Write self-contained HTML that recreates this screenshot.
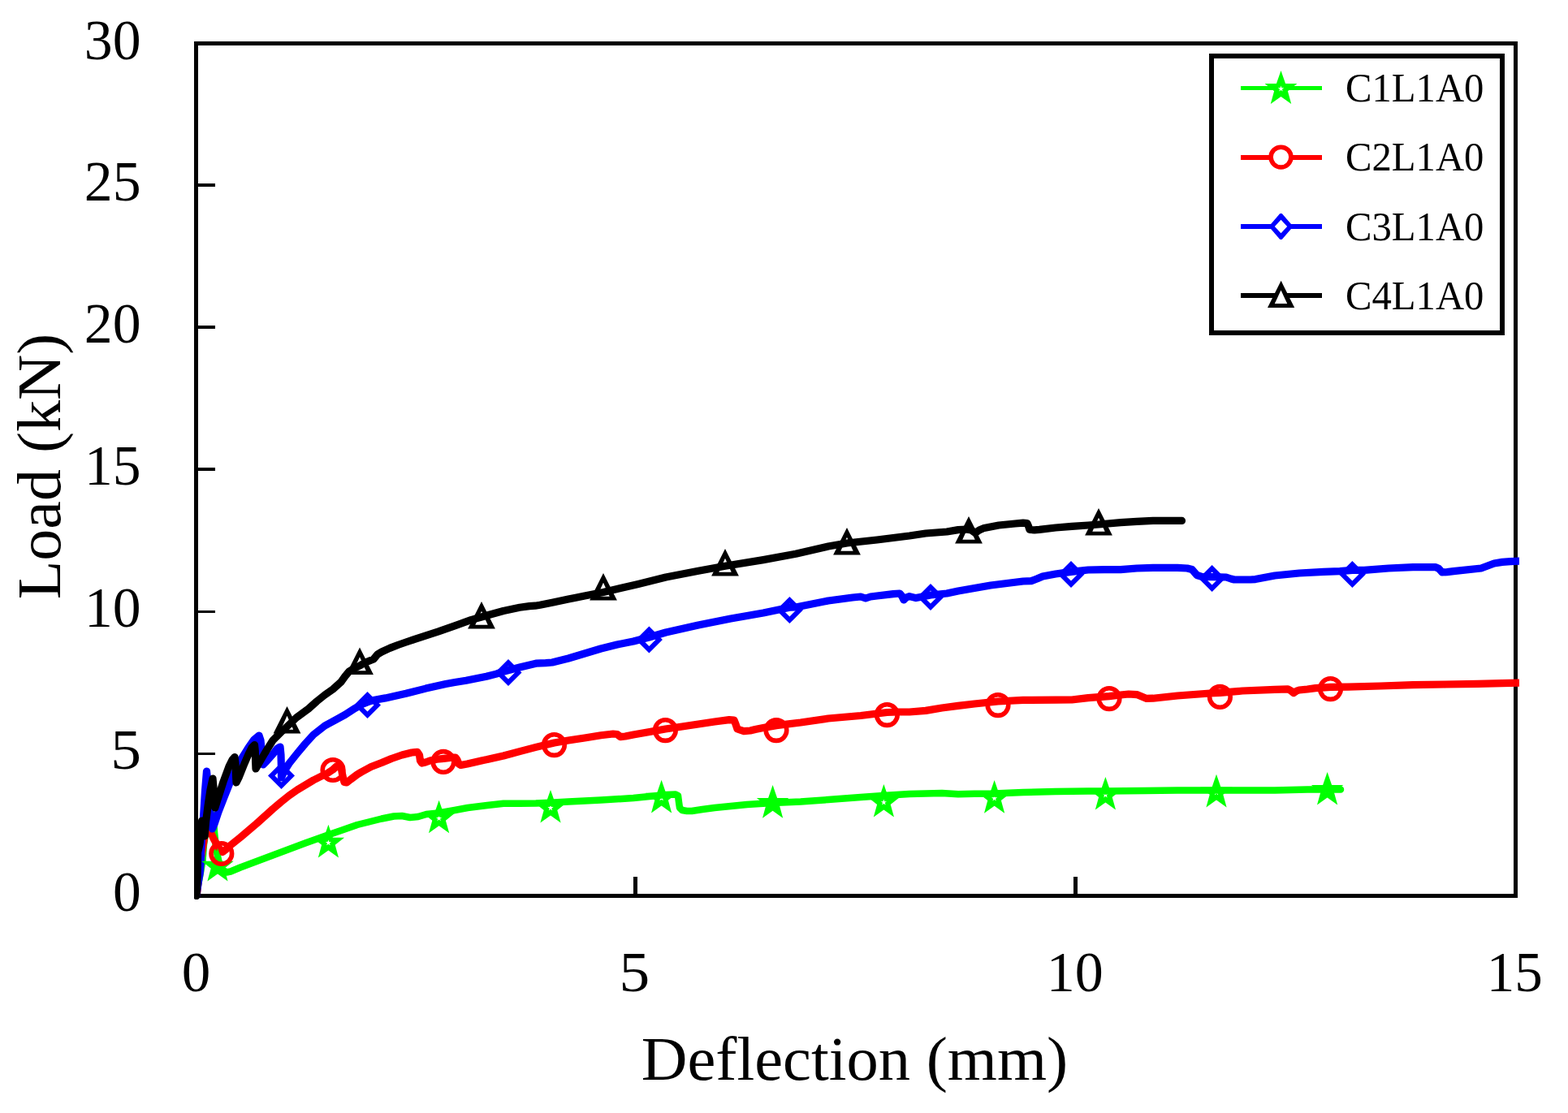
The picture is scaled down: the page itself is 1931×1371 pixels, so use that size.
<!DOCTYPE html>
<html lang="en"><head><meta charset="utf-8"><title>Load–Deflection</title>
<style>html,body{margin:0;padding:0;background:#fff;}body{width:1931px;height:1371px;overflow:hidden;}svg{display:block;}text{font-family:"Liberation Serif",serif;fill:#000;}</style>
</head><body>
<svg width="1931" height="1371" viewBox="0 0 1931 1371">
<rect width="1931" height="1371" fill="#fff"/>
<defs><clipPath id="plotclip"><rect x="239" y="40" width="1632" height="1068"/></clipPath></defs>
<g id="axes" fill="none" stroke="#000" shape-rendering="crispEdges">
<rect x="241.5" y="53.5" width="1625" height="1050" stroke-width="5"/>
<line x1="244" y1="228" x2="265" y2="228" stroke-width="4"/>
<line x1="244" y1="403" x2="265" y2="403" stroke-width="4"/>
<line x1="244" y1="578" x2="265" y2="578" stroke-width="4"/>
<line x1="244" y1="753.5" x2="265" y2="753.5" stroke-width="3"/>
<line x1="244" y1="928.5" x2="265" y2="928.5" stroke-width="3"/>
<line x1="782.5" y1="1080" x2="782.5" y2="1101" stroke-width="5"/>
<line x1="1324.5" y1="1080" x2="1324.5" y2="1101" stroke-width="5"/>
</g>
<g id="curves" clip-path="url(#plotclip)" fill="none" stroke-linejoin="round" stroke-linecap="round">
<g id="lines">
<polyline stroke="#00ff00" stroke-width="8.5" points="241.5,1103 246,1080 249.5,1060 251,1040 254,1020 258,1005 261,1003 263,1010 264,1025 265.5,1040 267.5,1052 270,1064 274,1071.5 279,1074.5 284,1073.5 296,1068.5 316,1061 336,1053.5 356,1046 376,1038.5 390,1033.5 404,1028.5 420,1023 440,1016 456,1012 470,1008.5 485,1005.5 495,1005 505,1007 515,1006 525,1003 540,1001.5 560,998 576,995 600,992 620,989.8 640,989.8 660,989.6 678,988.8 700,987.6 740,985.6 780,983 800,981 820,979 832,978.5 835,980 836,988 837,995 840,998 846,999 852,999 865,997 880,995 900,993 920,991 951.6,989 986,987.5 1020,985 1060,982 1088,980 1120,978 1160,977 1180,978.2 1200,977.8 1224.6,977.4 1260,976 1300,975 1340,974.4 1361,974.4 1410,974 1450,973.6 1498,973.4 1570,973.4 1610,972.4 1634.6,972.4 1651,972.4"/>
<polyline stroke="#ff0000" stroke-width="9.2" points="242.5,1101 247,1060 252,1030 256,1016 259,1024 263,1033 267.5,1041 271,1046.5 274.3,1049.5 277.5,1047 281,1043.5 296,1031.5 316,1014.5 336,996.5 346,988 356,980 366,973 376,967 386,961 396,956 404,952 410,948 415,943.5 418,942 420,945 422,956 424,963.5 427,964 432,960 440,954 445,951 457,944.5 470,939.5 482,934.5 495,930 507,927 514,926.3 516.5,930 517.5,937 519.5,940 524,939 529.5,937 538,935.3 546.5,934.4 556,933.2 561,933.2 563,936 565,941 567.5,942.5 575.5,941 594,936.7 600,935.6 620,931 640,925.6 660,920.4 682.6,915 700,912 720,909 740,905.8 755,904 760,904.5 764,907.6 770,907 780,905 800,901.5 819.4,898 840,895 860,892 880,889 898,886.6 904,887 906,892 908,898 916,900.6 924,900 930,898.6 940,896.5 956,893.6 986,890 1020,885 1060,881.5 1092.4,877.5 1106,877 1120,877 1140,875.4 1160,872 1180,869.4 1200,867 1229,864 1260,862.4 1300,862.2 1320,862 1340,859.6 1366,857.6 1380,856 1390,855 1400,855.6 1406,858 1412,860.4 1420,860.2 1450,857 1490,854 1502.4,853.4 1530,851 1570,849.4 1586,848.8 1590,851 1593,853.6 1597,851 1600,850 1610,849 1620,847.6 1638.6,846.4 1660,846.2 1700,845 1740,843.6 1780,843 1820,842.4 1860,841.4 1875,841"/>
<polyline stroke="#0000ff" stroke-width="9.2" points="242,1103 242.6,1098 244.2,1087 246.3,1075 247.3,1060 247.6,1048 248.7,1030 250.5,1007 252.6,973 254.5,950 256,965 258,990 260,1012 261.5,1021 264,1015 269,1000 276,982 286,957 296,937 306,921 313,911 319,906 321,912 322.5,928 324,942 328,938 336,929 341,922.5 345,920 346,930 346.4,945 346.5,958 350,950 356,940.5 366,928 376,916 386,905 400,894 412,887.5 425,880.4 437.3,872.4 446,867.5 452.4,865 460,862.5 474.6,859.9 500,854.2 524.3,848.1 549,842.5 560,840.5 574,838.2 599,833.2 611.3,830.1 620,827.2 640,822 660,817.2 672,816.6 680,816 700,811 720,805 740,799 760,794 780,790 799.4,785 820,779 860,770 900,762 940,755 972.4,748.2 980,748 1020,740 1050,736 1060,735 1066,737 1072,735 1080,734 1100,731.6 1108,731 1110.5,734 1113,739 1116,736 1120,734.6 1128,736.6 1136,735 1146,733 1166,731 1180,728 1220,721 1260,716 1270,715.6 1277,713 1284,710 1300,707 1319,704.4 1340,702 1360,701.6 1380,701.6 1400,700 1420,699.4 1450,699.4 1462,700 1468,701.5 1471,705 1474,708.5 1480,710.4 1492.6,710.6 1510,711 1516,713 1520,714 1540,714 1546,713.6 1570,709 1600,706 1630,704.4 1650,703.6 1665.4,702.4 1680,702.4 1710,700 1740,698.6 1768,698.6 1772,700.5 1776,705 1782,704.6 1790,703.6 1824,700 1832,697 1840,694 1850,692.4 1860,691.6 1875,691"/>
<polyline stroke="#000" stroke-width="9.2" points="242,1103.5 243.2,1080 243.6,1050 246,1040 247.5,1028 248.6,1011 250,1024 252,1030 253.5,1013 256,993 259,973 262,959 263,970 264,985 264.8,995 268,985 275,963 282,944 286,936 289,932.5 290,940 290.5,955 291,964 294,958 300,943 306,929 310,921 313.5,917.5 314.3,925 314.6,938 315,947 319,940 326,928 336,912 340,908 346,902 353.5,895 365,884 380,873 390,864 400,856 410,849 420,840 425,833 430,827 436,823.5 443,820 450,816 460,812 465,806 470,803 480,798.4 490,794.5 500,791 510,787.6 520,784.3 540,777.8 560,770.8 580,763.7 593,760 600,758 620,752.5 640,748.2 652,746.6 659,746.2 665,745.2 680,742.2 700,738 709,736.2 720,734 743,729.4 760,725.5 786,719.5 820,711 860,703.2 893,697.2 940,689.6 980,682.3 1020,673 1043,669 1080,665 1120,660 1140,657 1166,655 1180,652.6 1190,652 1196,653 1201,656.5 1206,653 1212,650.4 1230,647 1250,645 1260,644.2 1265,644.5 1266.5,648 1268,652.4 1274,652.8 1280,652.4 1300,650 1320,648.4 1340,647 1353,646 1380,643.6 1400,642.4 1420,641.4 1440,641.4 1455.5,641.4"/>
</g>
<g id="markers">
<path fill="#00ff00" fill-rule="evenodd" d="M268.0 1044.8 L273.5 1060.7 L287.7 1060.7 L276.3 1069.8 L280.6 1085.4 L268.0 1076.4 L255.4 1085.4 L259.7 1069.8 L248.3 1060.7 L262.5 1060.7Z M404.4 1015.8 L409.9 1031.7 L424.1 1031.7 L412.7 1040.8 L417.0 1056.4 L404.4 1047.4 L391.8 1056.4 L396.1 1040.8 L384.7 1031.7 L398.9 1031.7Z M404.4 1034.4 L405.3 1037.0 L408.0 1037.0 L405.8 1038.6 L406.6 1041.3 L404.4 1039.7 L402.2 1041.3 L403.0 1038.6 L400.8 1037.0 L403.5 1037.0Z M540.6 985.7 L546.1 1001.6 L560.3 1001.6 L548.9 1010.7 L553.2 1026.3 L540.6 1017.3 L528.0 1026.3 L532.3 1010.7 L520.9 1001.6 L535.1 1001.6Z M540.6 1004.3 L541.5 1006.9 L544.2 1006.9 L542.0 1008.5 L542.8 1011.2 L540.6 1009.6 L538.4 1011.2 L539.2 1008.5 L537.0 1006.9 L539.7 1006.9Z M678.0 972.9 L683.5 988.8 L697.7 988.8 L686.3 997.9 L690.6 1013.5 L678.0 1004.5 L665.4 1013.5 L669.7 997.9 L658.3 988.8 L672.5 988.8Z M678.0 991.5 L678.9 994.1 L681.6 994.1 L679.4 995.7 L680.2 998.4 L678.0 996.8 L675.8 998.4 L676.6 995.7 L674.4 994.1 L677.1 994.1Z M814.6 960.8 L820.1 976.7 L834.3 976.7 L822.9 985.8 L827.2 1001.4 L814.6 992.4 L802.0 1001.4 L806.3 985.8 L794.9 976.7 L809.1 976.7Z M814.6 979.4 L815.5 982.0 L818.2 982.0 L816.0 983.6 L816.8 986.3 L814.6 984.7 L812.4 986.3 L813.2 983.6 L811.0 982.0 L813.7 982.0Z M951.6 967.1 L957.1 983.0 L971.3 983.0 L959.9 992.1 L964.2 1007.7 L951.6 998.7 L939.0 1007.7 L943.3 992.1 L931.9 983.0 L946.1 983.0Z M951.6 985.7 L952.5 988.3 L955.2 988.3 L953.0 989.9 L953.8 992.6 L951.6 991.0 L949.4 992.6 L950.2 989.9 L948.0 988.3 L950.7 988.3Z M1088.4 966.0 L1093.9 981.9 L1108.1 981.9 L1096.7 991.0 L1101.0 1006.6 L1088.4 997.6 L1075.8 1006.6 L1080.1 991.0 L1068.7 981.9 L1082.9 981.9Z M1088.4 984.6 L1089.3 987.2 L1092.0 987.2 L1089.8 988.8 L1090.6 991.5 L1088.4 989.9 L1086.2 991.5 L1087.0 988.8 L1084.8 987.2 L1087.5 987.2Z M1224.6 961.1 L1230.1 977.0 L1244.3 977.0 L1232.9 986.1 L1237.2 1001.7 L1224.6 992.7 L1212.0 1001.7 L1216.3 986.1 L1204.9 977.0 L1219.1 977.0Z M1224.6 979.7 L1225.5 982.3 L1228.2 982.3 L1226.0 983.9 L1226.8 986.6 L1224.6 985.0 L1222.4 986.6 L1223.2 983.9 L1221.0 982.3 L1223.7 982.3Z M1361.4 956.9 L1366.9 972.8 L1381.1 972.8 L1369.7 981.9 L1374.0 997.5 L1361.4 988.5 L1348.8 997.5 L1353.1 981.9 L1341.7 972.8 L1355.9 972.8Z M1361.4 975.5 L1362.3 978.1 L1365.0 978.1 L1362.8 979.7 L1363.6 982.4 L1361.4 980.8 L1359.2 982.4 L1360.0 979.7 L1357.8 978.1 L1360.5 978.1Z M1498.0 953.8 L1503.5 969.7 L1517.7 969.7 L1506.3 978.8 L1510.6 994.4 L1498.0 985.4 L1485.4 994.4 L1489.7 978.8 L1478.3 969.7 L1492.5 969.7Z M1498.0 972.4 L1498.9 975.0 L1501.6 975.0 L1499.4 976.6 L1500.2 979.3 L1498.0 977.7 L1495.8 979.3 L1496.6 976.6 L1494.4 975.0 L1497.1 975.0Z M1634.6 951.0 L1640.1 966.9 L1654.3 966.9 L1642.9 976.0 L1647.2 991.6 L1634.6 982.6 L1622.0 991.6 L1626.3 976.0 L1614.9 966.9 L1629.1 966.9Z M1634.6 969.6 L1635.5 972.2 L1638.2 972.2 L1636.0 973.8 L1636.8 976.5 L1634.6 974.9 L1632.4 976.5 L1633.2 973.8 L1631.0 972.2 L1633.7 972.2Z"/>
<g stroke="#ff0000" stroke-width="5.6">
<circle cx="272.8" cy="1051.5" r="12.8"/>
<circle cx="410" cy="948.5" r="12.8"/>
<circle cx="546" cy="938.4" r="12.8"/>
<circle cx="682.5" cy="917.6" r="12.8"/>
<circle cx="819.4" cy="899.6" r="12.8"/>
<circle cx="956" cy="899.6" r="12.8"/>
<circle cx="1092.4" cy="880.6" r="12.8"/>
<circle cx="1229" cy="868.6" r="12.8"/>
<circle cx="1366" cy="860.6" r="12.8"/>
<circle cx="1502.4" cy="858.4" r="12.8"/>
<circle cx="1638.5" cy="848.6" r="12.8"/>
</g>
<path fill="#0000ff" fill-rule="evenodd" d="M346.5 939L363 955.5L346.5 972L330 955.5Z M346.5 947.5L354.5 955.5L346.5 963.5L338.5 955.5Z M452.5 852L469 868.5L452.5 885L436 868.5Z M452.5 860.5L460.5 868.5L452.5 876.5L444.5 868.5Z M626 812L642.5 828.5L626 845L609.5 828.5Z M626 820.5L634 828.5L626 836.5L618 828.5Z M799.4 771.5L815.9 788L799.4 804.5L782.9 788Z M799.4 780L807.4 788L799.4 796L791.4 788Z M972.4 735.1L988.9 751.6L972.4 768.1L955.9 751.6Z M972.4 743.6L980.4 751.6L972.4 759.6L964.4 751.6Z M1146 719.1L1162.5 735.6L1146 752.1L1129.5 735.6Z M1146 727.6L1154 735.6L1146 743.6L1138 735.6Z M1319 691L1335.5 707.5L1319 724L1302.5 707.5Z M1319 699.5L1327 707.5L1319 715.5L1311 707.5Z M1492.6 696L1509.1 712.5L1492.6 729L1476.1 712.5Z M1492.6 704.5L1500.6 712.5L1492.6 720.5L1484.6 712.5Z M1665.4 691L1681.9 707.5L1665.4 724L1648.9 707.5Z M1665.4 699.5L1673.4 707.5L1665.4 715.5L1657.4 707.5Z"/>
<path fill="#000" fill-rule="evenodd" d="M353.5 870L370.4 903.6L336.6 903.6Z M353.5 881.8L361.2 898.8L345.8 898.8Z M443 797.4L459.9 831L426.1 831Z M443 809.2L450.7 826.2L435.3 826.2Z M593 741L609.9 774.6L576.1 774.6Z M593 752.8L600.7 769.8L585.3 769.8Z M743 706L759.9 739.6L726.1 739.6Z M743 717.8L750.7 734.8L735.3 734.8Z M893 676L909.9 709.6L876.1 709.6Z M893 687.8L900.7 704.8L885.3 704.8Z M1043 650L1059.9 683.6L1026.1 683.6Z M1043 661.8L1050.7 678.8L1035.3 678.8Z M1193 636L1209.9 669.6L1176.1 669.6Z M1193 647.8L1200.7 664.8L1185.3 664.8Z M1353 626L1369.9 659.6L1336.1 659.6Z M1353 637.8L1360.7 654.8L1345.3 654.8Z"/>
</g>
</g>
<g id="yticks">
<text transform="translate(103.79 72.5) scale(1.0031 1)" font-size="69.5">30</text>
<text transform="translate(103.79 247.2) scale(1.0031 1)" font-size="69.5">25</text>
<text transform="translate(103.79 422.2) scale(1.0031 1)" font-size="69.5">20</text>
<text transform="translate(103.89 597.2) scale(1.0016 1)" font-size="69.5">15</text>
<text transform="translate(103.89 772.2) scale(1.0016 1)" font-size="69.5">10</text>
<text transform="translate(136.26 947.2) scale(1.0857 1)" font-size="69.5">5</text>
<text transform="translate(139.00 1122.2) scale(1.0000 1)" font-size="69.5">0</text>
</g>
<g id="xticks">
<text transform="translate(223.63 1220.5) scale(1.0241 1)" font-size="69.5">0</text>
<text transform="translate(762.46 1220.5) scale(1.0857 1)" font-size="69.5">5</text>
<text transform="translate(1288.65 1220.5) scale(1.0082 1)" font-size="69.5">10</text>
<text transform="translate(1830.64 1220.5) scale(0.9934 1)" font-size="69.5">15</text>
</g>
<text id="xlabel" transform="translate(789.68 1330) scale(1.0333 1)" font-size="76">Deflection <tspan x="339.71">(mm)</tspan></text>
<text id="ylabel" transform="translate(74 738.35) rotate(-90) scale(1.0267 1)" font-size="76">Load <tspan x="175.67">(kN)</tspan></text>
<g id="legend">
<rect x="1492" y="69" width="358" height="341" fill="#fff" stroke="#000" stroke-width="6" shape-rendering="crispEdges"/>
<g shape-rendering="crispEdges" fill="none">
<line x1="1528" y1="108.5" x2="1628" y2="108.5" stroke="#00ff00" stroke-width="5"/>
<line x1="1528" y1="194" x2="1628" y2="194" stroke="#ff0000" stroke-width="6"/>
<line x1="1528" y1="279" x2="1628" y2="279" stroke="#0000ff" stroke-width="6"/>
<line x1="1528" y1="364" x2="1628" y2="364" stroke="#000" stroke-width="6"/>
</g>
<path fill="#00ff00" d="M1577.5 87.0 L1583.1 103.1 L1597.4 103.1 L1585.9 112.3 L1590.2 128.1 L1577.5 119.0 L1564.8 128.1 L1569.1 112.3 L1557.6 103.1 L1571.9 103.1Z"/>
<path fill="#fff" d="M1577.5 105.5 L1578.4 108.2 L1581.2 108.2 L1578.9 109.9 L1579.8 112.6 L1577.5 110.9 L1575.2 112.6 L1576.1 109.9 L1573.8 108.2 L1576.6 108.2Z"/>
<circle cx="1577.5" cy="193.6" r="12.4" fill="#fff" stroke="#ff0000" stroke-width="5.6"/>
<path fill="#0000ff" d="M1576.3 262.9h2.4L1591.3 277.6v2.8L1578.7 295.1h-2.4L1563.8 280.4v-2.8Z"/>
<path fill="#fff" d="M1577.5 270.8L1585.2 279L1577.5 287.2L1569.8 279Z"/>
<path fill="#000" d="M1577.6 345.8L1594.2 378.9H1561L1577.6 345.8Z"/>
<path fill="#fff" d="M1577.5 357.6L1585.2 374.1H1569.8Z"/>
<text transform="translate(1656.97 125) scale(0.9665 1)" font-size="50.4">C1L1A0</text>
<text transform="translate(1656.97 210.3) scale(0.9665 1)" font-size="50.4">C2L1A0</text>
<text transform="translate(1656.97 295.6) scale(0.9665 1)" font-size="50.4">C3L1A0</text>
<text transform="translate(1656.97 381) scale(0.9665 1)" font-size="50.4">C4L1A0</text>
</g>
</svg></body></html>
